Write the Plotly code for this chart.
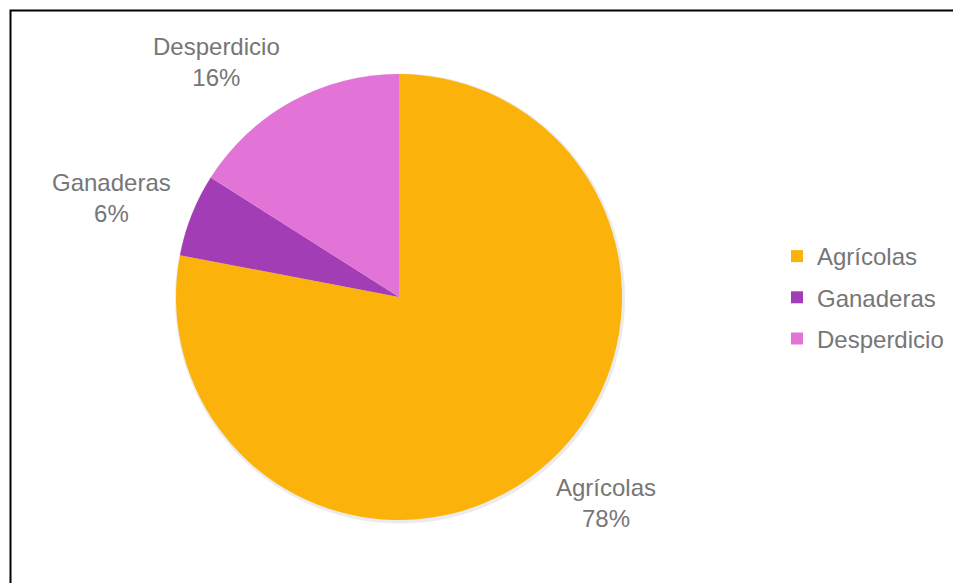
import math
import plotly.graph_objects as go

categories = ["Agrícolas", "Ganaderas", "Desperdicio"]
values = [78, 6, 16]
colors = ["#FBB30C", "#A23DB5", "#E274D8"]

W, H = 961, 583
O = 8  # page body margin offset
cx, cy, r = 399 - O, 297 - O, 223
FONT = "Liberation Sans, Arial"
TXT = "#767676"
FS = 24
BLOCK_H = 62  # two-line label block height (px)


def dom(c_x, c_y, rad):
    return dict(x=[(c_x - rad) / W, (c_x + rad) / W],
                y=[1 - (c_y + rad) / H, 1 - (c_y - rad) / H])


fig = go.Figure()
# soft shadow behind the pie
fig.add_trace(go.Pie(
    values=[1], labels=["shadow"], sort=False, textinfo="none",
    marker=dict(colors=["rgba(0,0,0,0.08)"], line=dict(width=0)),
    showlegend=False, hoverinfo="skip", domain=dom(cx + 1, cy + 1.5, r + 2),
))
fig.add_trace(go.Pie(
    labels=categories,
    values=values,
    sort=False,
    direction="clockwise",
    rotation=0,
    marker=dict(colors=colors, line=dict(width=0)),
    textinfo="none",
    showlegend=False,
    hoverinfo="label+percent",
    domain=dom(cx, cy, r),
))

# outside-end data labels, placed along each slice's mid angle
total = sum(values)
cum = 0
annotations = []
gap_x, gap_y = 20, 14
for c, v in zip(categories, values):
    mid = (cum + v / 2) / total * 2 * math.pi
    cum += v
    dx, dy = math.sin(mid), -math.cos(mid)  # screen coords, y down
    px = cx + dx * (r + gap_x)
    py = cy + dy * (r + gap_y) + dy * BLOCK_H / 2
    xa = "right" if dx < -0.3 else ("left" if dx > 0.3 else "center")
    annotations.append(dict(
        x=px / W, y=1 - py / H, xref="paper", yref="paper",
        xanchor=xa, yanchor="middle", showarrow=False, align="center",
        text=f"{c}<br>{round(v / total * 100)}%",
        font=dict(family=FONT, size=FS, color=TXT),
    ))

for c, col in zip(categories, colors):
    fig.add_trace(go.Scatter(
        x=[None], y=[None], mode="markers", name=c, legendgroup=c,
        marker=dict(symbol="square", size=12, color=col),
    ))

fig.update_layout(
    width=W, height=H,
    margin=dict(l=0, r=0, t=0, b=0),
    paper_bgcolor="white", plot_bgcolor="white",
    xaxis=dict(visible=False), yaxis=dict(visible=False),
    annotations=annotations,
    legend=dict(
        x=(777 - O) / W, y=1 - (234 - O) / H, xanchor="left", yanchor="top",
        font=dict(family=FONT, size=FS, color=TXT),
        tracegroupgap=7, itemwidth=30, bgcolor="rgba(0,0,0,0)",
    ),
    shapes=[dict(type="rect", xref="paper", yref="paper",
                 x0=(10.5 - O) / W, x1=1.02, y0=-0.02, y1=1 - (10.5 - O) / H,
                 line=dict(color="black", width=2))],
)

fig.write_html("out.html")
